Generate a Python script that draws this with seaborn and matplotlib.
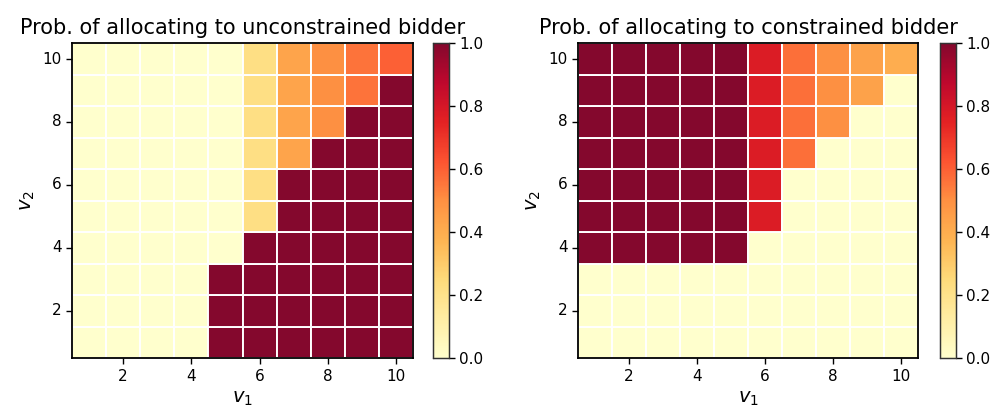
import matplotlib

matplotlib.use("Agg")
import matplotlib.pyplot as plt
import numpy as np
import seaborn as sns

# values for v1 = 1..10 (columns), v2 = 1..10 (rows, bottom to top)
v_values = list(range(1, 11))

unconstrained = [
    [0, 0, 0, 0, 1, 1, 1, 1, 1, 1],
    [0, 0, 0, 0, 1, 1, 1, 1, 1, 1],
    [0, 0, 0, 0, 1, 1, 1, 1, 1, 1],
    [0, 0, 0, 0, 0, 1, 1, 1, 1, 1],
    [0, 0, 0, 0, 0, 0.22, 1, 1, 1, 1],
    [0, 0, 0, 0, 0, 0.22, 1, 1, 1, 1],
    [0, 0, 0, 0, 0, 0.22, 0.43, 1, 1, 1],
    [0, 0, 0, 0, 0, 0.22, 0.43, 0.5, 1, 1],
    [0, 0, 0, 0, 0, 0.22, 0.43, 0.5, 0.56, 1],
    [0, 0, 0, 0, 0, 0.22, 0.43, 0.5, 0.56, 0.6],
]

constrained = [
    [0, 0, 0, 0, 0, 0, 0, 0, 0, 0],
    [0, 0, 0, 0, 0, 0, 0, 0, 0, 0],
    [0, 0, 0, 0, 0, 0, 0, 0, 0, 0],
    [1, 1, 1, 1, 1, 0, 0, 0, 0, 0],
    [1, 1, 1, 1, 1, 0.78, 0, 0, 0, 0],
    [1, 1, 1, 1, 1, 0.78, 0, 0, 0, 0],
    [1, 1, 1, 1, 1, 0.78, 0.57, 0, 0, 0],
    [1, 1, 1, 1, 1, 0.78, 0.57, 0.5, 0, 0],
    [1, 1, 1, 1, 1, 0.78, 0.57, 0.5, 0.44, 0],
    [1, 1, 1, 1, 1, 0.78, 0.57, 0.5, 0.44, 0.4],
]

titles = ["Prob. of allocating to unconstrained bidder", "Prob. of allocating to constrained bidder"]
tick_vals = [2, 4, 6, 8, 10]

plt.rcParams["font.family"] = ["DejaVu Sans"]

fig = plt.figure(figsize=(10, 4.16), dpi=100)
ax_pos = [[0.072, 0.139, 0.341, 0.757], [0.578, 0.139, 0.340, 0.757]]
cb_pos = [[0.433, 0.139, 0.016, 0.757], [0.940, 0.139, 0.016, 0.757]]

for data, title, apos, cpos in zip([unconstrained, constrained], titles, ax_pos, cb_pos):
    ax = fig.add_axes(apos)
    cax = fig.add_axes(cpos)
    sns.heatmap(
        np.array(data),
        ax=ax,
        cbar_ax=cax,
        cmap="YlOrRd",
        vmin=0,
        vmax=1,
        linewidths=1.2,
        linecolor="white",
        alpha=0.97,
    )
    ax.invert_yaxis()
    pos = [v - 0.5 for v in tick_vals]
    ax.set_xticks(pos)
    ax.set_xticklabels(tick_vals, rotation=0, fontsize=11)
    ax.set_yticks(pos)
    ax.set_yticklabels(tick_vals, rotation=0, fontsize=11)
    ax.tick_params(length=4, width=1)
    for s in ax.spines.values():
        s.set_visible(True)
        s.set_linewidth(1.3)
        s.set_color("black")
    ax.set_xlabel("$v_1$", fontsize=14)
    ax.set_ylabel("$v_2$", fontsize=14)
    ax.set_title(title, fontsize=15, pad=7)
    cax.set_yticks([0, 0.2, 0.4, 0.6, 0.8, 1.0])
    cax.set_yticklabels(["0.0", "0.2", "0.4", "0.6", "0.8", "1.0"])
    cax.tick_params(labelsize=11, length=4, width=1)
    for s in cax.spines.values():
        s.set_visible(True)
        s.set_linewidth(0.9)
        s.set_color("#333333")

fig.savefig("out.png", dpi=100)
